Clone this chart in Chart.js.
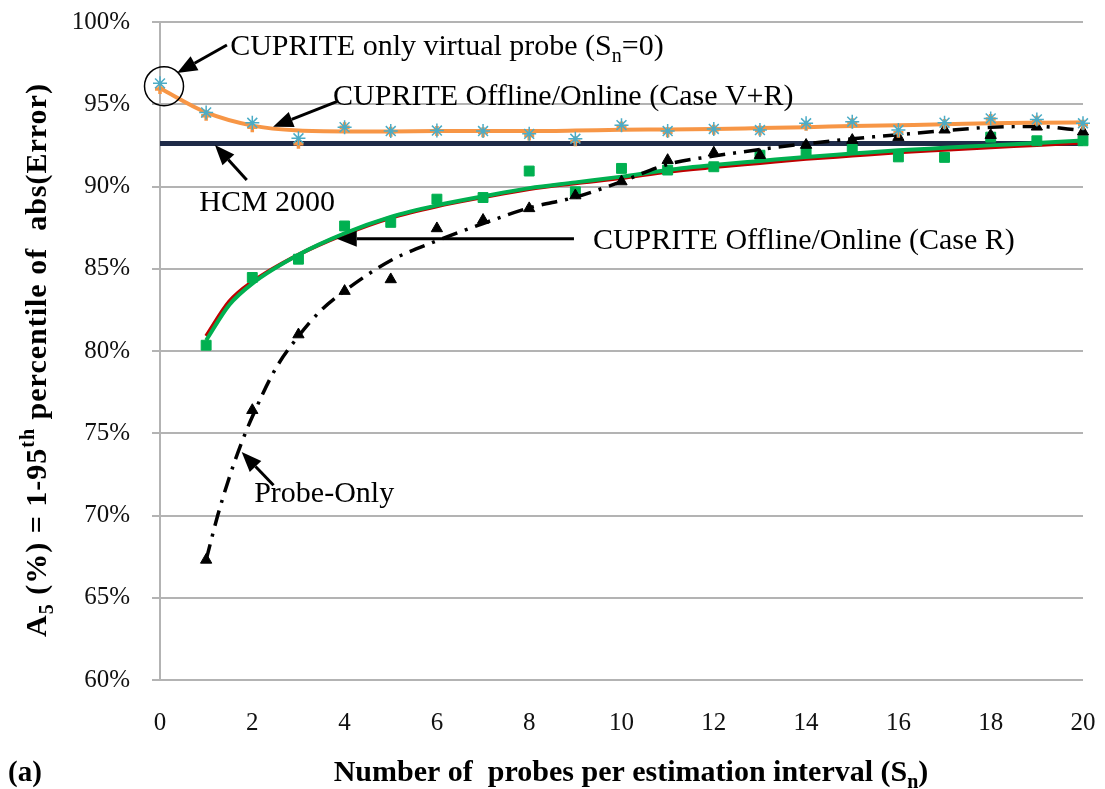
<!DOCTYPE html>
<html>
<head>
<meta charset="utf-8">
<script src="https://cdn.jsdelivr.net/npm/chart.js@4.4.1/dist/chart.umd.min.js"></script>
<style>
  html, body { margin: 0; padding: 0; background: #fff; }
  canvas { display: block; }
</style>
</head>
<body>
<canvas id="chartProbes" width="1105" height="789"></canvas>
<script>
const FONT = "'Liberation Serif', 'DejaVu Serif', serif";

// x = number of probes per estimation interval
const probesAll = [0, 1, 2, 3, 4, 5, 6, 7, 8, 9, 10, 11, 12, 13, 14, 15, 16, 17, 18, 19, 20];
const probesFrom1 = [1, 2, 3, 4, 5, 6, 7, 8, 9, 10, 11, 12, 13, 14, 15, 16, 17, 18, 19, 20];

// CUPRITE Offline/Online (Case V+R)
const vrOnline = [96.27, 94.5, 93.87, 92.93, 93.6, 93.37, 93.4, 93.37, 93.2, 92.9, 93.73, 93.37, 93.5, 93.43, 93.84, 93.94, 93.43, 93.88, 94.14, 94.08, 93.84];
const vrOffline = [95.92, 94.3, 93.6, 92.6, 93.6, 93.33, 93.37, 93.3, 93.1, 92.75, 93.65, 93.3, 93.45, 93.4, 93.7, 93.85, 93.27, 93.8, 94.1, 94.0, 93.75];
const vrTrend = [95.97, 94.5, 93.7, 93.4, 93.35, 93.35, 93.37, 93.37, 93.37, 93.4, 93.45, 93.47, 93.5, 93.55, 93.6, 93.68, 93.73, 93.78, 93.85, 93.88, 93.9];

// HCM 2000 reference level
const hcmX = [0, 20];
const hcmY = [92.62, 92.62];

// CUPRITE Offline/Online (Case R)
const caseR = [80.35, 84.47, 85.58, 87.6, 87.82, 89.23, 89.33, 90.94, 89.68, 91.1, 91.0, 91.2, 91.9, 92.11, 92.25, 91.8, 91.77, 93.0, 92.78, 92.78];
const trendX = [1, 1.5, 2, 3, 4, 5, 6, 7, 8, 9, 10, 11, 12, 13, 14, 15, 16, 17, 18, 19, 20];
const caseRTrendGreen = [80.65, 82.8, 84.1, 85.85, 87.15, 88.15, 88.85, 89.4, 89.9, 90.25, 90.6, 91.0, 91.3, 91.55, 91.8, 92.0, 92.2, 92.35, 92.5, 92.65, 92.8];
const caseRTrendRed = [80.9, 83.0, 84.2, 85.85, 87.1, 88.1, 88.8, 89.35, 89.85, 90.2, 90.52, 90.9, 91.18, 91.43, 91.68, 91.88, 92.08, 92.23, 92.38, 92.53, 92.68];

// Probe-Only
const probeOnly = [67.3, 76.4, 81.0, 83.64, 84.35, 87.45, 87.96, 88.67, 89.45, 90.3, 91.6, 92.05, 91.9, 92.52, 92.82, 93.0, 93.45, 93.12, 93.63, 93.33];
const probeTrendX = [1, 1.25, 1.5, 1.75, 2, 2.5, 3, 3.5, 4, 5, 6, 7, 8, 9, 10, 11, 12, 13, 14, 15, 16, 17, 18, 19, 20];
const probeTrend = [67.3, 70.0, 72.3, 74.3, 76.0, 78.9, 80.9, 82.5, 83.65, 85.5, 86.7, 87.75, 88.7, 89.35, 90.3, 91.35, 91.85, 92.25, 92.6, 92.9, 93.15, 93.4, 93.6, 93.65, 93.4];

const yTicks = [60, 65, 70, 75, 80, 85, 90, 95, 100];

function toXY(xs, ys) {
  return xs.map((x, i) => ({ x: x, y: ys[i] }));
}

// text with sub/superscript parts: [[text, ''|'sub'|'sup'], ...]
function drawRich(ctx, parts, x, y, size, weight, align) {
  const fontFor = (mode) => weight + ' ' + (mode ? Math.round(size * 0.65) : size) + 'px ' + FONT;
  let total = 0;
  parts.forEach(([t, mode]) => {
    ctx.font = fontFor(mode);
    total += ctx.measureText(t).width;
  });
  let cx = align === 'center' ? x - total / 2 : x;
  ctx.textAlign = 'left';
  ctx.textBaseline = 'alphabetic';
  parts.forEach(([t, mode]) => {
    ctx.font = fontFor(mode);
    let dy = 0;
    if (mode === 'sub') dy = size * 0.22;
    if (mode === 'sup') dy = -size * 0.4;
    ctx.fillText(t, cx, y + dy);
    cx += ctx.measureText(t).width;
  });
}

function drawArrow(ctx, x1, y1, x2, y2) {
  const ang = Math.atan2(y2 - y1, x2 - x1);
  const head = 20, half = 8;
  const bx = x2 - head * Math.cos(ang);
  const by = y2 - head * Math.sin(ang);
  ctx.beginPath();
  ctx.moveTo(x1, y1);
  ctx.lineTo(bx, by);
  ctx.lineWidth = 3;
  ctx.stroke();
  ctx.beginPath();
  ctx.moveTo(x2, y2);
  ctx.lineTo(bx + half * Math.sin(ang), by - half * Math.cos(ang));
  ctx.lineTo(bx - half * Math.sin(ang), by + half * Math.cos(ang));
  ctx.closePath();
  ctx.fill();
}

// callouts, positioned in data units
const notes = [
  { parts: [['CUPRITE only virtual probe (S', ''], ['n', 'sub'], ['=0)', '']], at: [1.52, 97.99], from: [1.45, 98.6], to: [0.37, 96.9] },
  { parts: [['CUPRITE Offline/Online (Case V+R)', '']], at: [3.75, 94.95], from: [3.83, 95.16], to: [2.45, 93.63] },
  { parts: [['HCM 2000', '']], at: [0.85, 88.5], from: [1.88, 90.39], to: [1.19, 92.52] },
  { parts: [['CUPRITE Offline/Online (Case R)', '']], at: [9.38, 86.19], from: [8.97, 86.83], to: [3.83, 86.83] },
  { parts: [['Probe-Only', '']], at: [2.04, 70.8], from: [2.46, 71.84], to: [1.77, 73.86] },
];

const calloutPlugin = {
  id: 'callouts',
  afterDraw(chart) {
    const ctx = chart.ctx;
    const xs = chart.scales.x;
    const ys = chart.scales.y;
    const px = (v) => xs.getPixelForValue(v);
    const py = (v) => ys.getPixelForValue(v);
    ctx.save();
    ctx.fillStyle = '#000';
    ctx.strokeStyle = '#000';

    // circle round the S=0 point
    ctx.beginPath();
    ctx.lineWidth = 1.5;
    ctx.arc(px(0.087), py(96.1), 19.5, 0, Math.PI * 2);
    ctx.stroke();

    notes.forEach((n) => {
      drawRich(ctx, n.parts, px(n.at[0]), py(n.at[1]), 30, 'normal', 'left');
      drawArrow(ctx, px(n.from[0]), py(n.from[1]), px(n.to[0]), py(n.to[1]));
    });

    // axis titles
    drawRich(ctx, [['Number of  probes per estimation interval (S', ''], ['n', 'sub'], [')', '']], 631, 781, 30, 'bold', 'center');
    drawRich(ctx, [['(a)', '']], 8, 781, 29, 'bold', 'left');

    ctx.save();
    ctx.translate(46, 360);
    ctx.rotate(-Math.PI / 2);
    ctx.letterSpacing = '1px';
    drawRich(ctx, [['A', ''], ['5', 'sub'], [' (%) = 1-95', ''], ['th', 'sup'], [' percentile of  abs(Error)', '']], 0, 0, 30, 'bold', 'center');
    ctx.restore();

    ctx.restore();
  },
};

const ctx = document.getElementById('chartProbes').getContext('2d');
const probesChart = new Chart(ctx, {
  type: 'line',
  data: {
    datasets: [
      {
        label: 'Case V+R online',
        data: toXY(probesAll, vrOnline),
        showLine: false,
        pointStyle: 'star',
        pointRadius: 7,
        pointBorderWidth: 1.5,
        borderColor: '#4BACC6',
        backgroundColor: '#4BACC6',
        order: 1,
      },
      {
        label: 'Case V+R offline',
        data: toXY(probesAll, vrOffline),
        showLine: false,
        pointStyle: 'cross',
        pointRadius: 5,
        pointBorderWidth: 3.5,
        borderColor: '#F79646',
        backgroundColor: '#F79646',
        order: 2,
      },
      {
        label: 'Case V+R trend',
        data: toXY(probesAll, vrTrend),
        borderColor: '#F79646',
        borderWidth: 4,
        pointRadius: 0,
        cubicInterpolationMode: 'monotone',
        order: 3,
      },
      {
        label: 'Probe-Only',
        data: toXY(probesFrom1, probeOnly),
        showLine: false,
        pointStyle: 'triangle',
        pointRadius: 6.5,
        borderColor: '#000',
        backgroundColor: '#000',
        order: 4,
      },
      {
        label: 'Probe-Only trend',
        data: toXY(probeTrendX, probeTrend),
        borderColor: '#000',
        borderWidth: 3.5,
        borderDash: [16, 8, 3, 8],
        pointRadius: 0,
        cubicInterpolationMode: 'monotone',
        order: 5,
      },
      {
        label: 'Case R',
        data: toXY(probesFrom1, caseR),
        showLine: false,
        pointStyle: 'rect',
        pointRadius: 7,
        borderColor: '#00B050',
        backgroundColor: '#00B050',
        order: 6,
      },
      {
        label: 'Case R trend',
        data: toXY(trendX, caseRTrendGreen),
        borderColor: '#00B050',
        borderWidth: 4,
        pointRadius: 0,
        cubicInterpolationMode: 'monotone',
        order: 7,
      },
      {
        label: 'Case R trend 2',
        data: toXY(trendX, caseRTrendRed),
        borderColor: '#C00000',
        borderWidth: 4,
        pointRadius: 0,
        cubicInterpolationMode: 'monotone',
        order: 8,
      },
      {
        label: 'HCM 2000',
        data: toXY(hcmX, hcmY),
        borderColor: '#1F2B48',
        borderWidth: 5,
        pointRadius: 0,
        order: 9,
      },
    ],
  },
  options: {
    responsive: false,
    animation: false,
    clip: false,
    layout: { padding: { top: 22, right: 22, left: 0, bottom: 0 } },
    plugins: {
      legend: { display: false },
      tooltip: { enabled: false },
    },
    scales: {
      x: {
        type: 'linear',
        min: 0,
        max: 20,
        ticks: { stepSize: 2, color: '#111', font: { family: FONT, size: 25 }, padding: 28 },
        grid: { display: false, drawTicks: false },
        border: { display: false },
        afterFit: (scale) => {
          scale.height = 109;
          scale.paddingLeft = 0;
          scale.paddingRight = 0;
        },
      },
      y: {
        min: 60,
        max: 100,
        afterBuildTicks: (scale) => { scale.ticks = yTicks.map((v) => ({ value: v })); },
        ticks: { color: '#111', font: { family: FONT, size: 25 }, padding: 22, callback: (v) => v + '%' },
        grid: { color: '#b3b3b3', lineWidth: 2, tickLength: 8 },
        border: { color: '#b3b3b3', width: 2 },
        afterFit: (scale) => {
          scale.width = 160;
          scale.paddingTop = 0;
          scale.paddingBottom = 0;
        },
      },
    },
  },
  plugins: [calloutPlugin],
});
</script>
</body>
</html>
